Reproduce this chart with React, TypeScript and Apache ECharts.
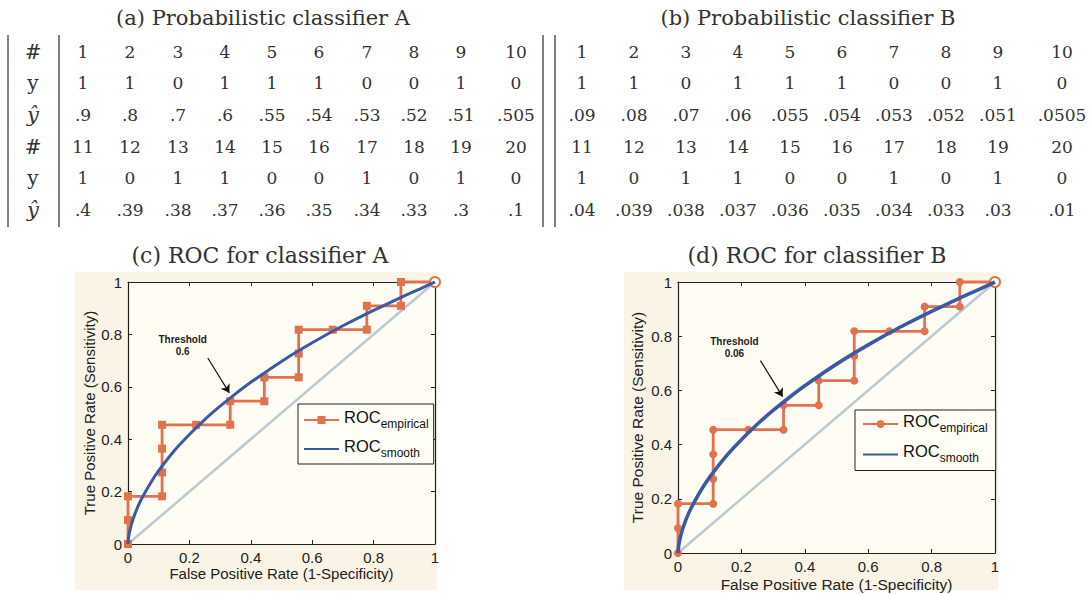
import React, { useEffect, useRef } from 'react';
import * as echarts from 'echarts';

// ---------- Table data ----------
const idsTop = ['1', '2', '3', '4', '5', '6', '7', '8', '9', '10'];
const idsBottom = ['11', '12', '13', '14', '15', '16', '17', '18', '19', '20'];
const yTop = ['1', '1', '0', '1', '1', '1', '0', '0', '1', '0'];
const yBottom = ['1', '0', '1', '1', '0', '0', '1', '0', '1', '0'];
const scoresATop = ['.9', '.8', '.7', '.6', '.55', '.54', '.53', '.52', '.51', '.505'];
const scoresABottom = ['.4', '.39', '.38', '.37', '.36', '.35', '.34', '.33', '.3', '.1'];
const scoresBTop = ['.09', '.08', '.07', '.06', '.055', '.054', '.053', '.052', '.051', '.0505'];
const scoresBBottom = ['.04', '.039', '.038', '.037', '.036', '.035', '.034', '.033', '.03', '.01'];
const rowLabels = ['#', 'y', 'ŷ', '#', 'y', 'ŷ'];

// ---------- ROC data ----------
const empiricalFpr = [0, 0, 0, 0.111, 0.111, 0.111, 0.111, 0.222, 0.333, 0.333, 0.444, 0.444, 0.556, 0.556, 0.556, 0.667, 0.778, 0.778, 0.889, 0.889, 1];
const empiricalTpr = [0, 0.091, 0.182, 0.182, 0.273, 0.364, 0.455, 0.455, 0.455, 0.545, 0.545, 0.636, 0.636, 0.727, 0.818, 0.818, 0.818, 0.909, 0.909, 1, 1];
const smoothFpr = [0, 0.002, 0.005, 0.01, 0.02, 0.035, 0.05, 0.075, 0.1, 0.15, 0.2, 0.25, 0.3, 0.35, 0.4, 0.5, 0.6, 0.7, 0.8, 0.9, 0.95, 1];
const smoothTpr = [0, 0.026, 0.045, 0.07, 0.107, 0.15, 0.185, 0.236, 0.28, 0.355, 0.418, 0.475, 0.526, 0.573, 0.617, 0.697, 0.768, 0.833, 0.892, 0.947, 0.973, 1];
const chanceFpr = [0, 1];
const chanceTpr = [0, 1];
const thresholdA = '0.6';
const thresholdB = '0.06';
const thresholdTextPos = [0.178, 0.757];
const arrowFrom = [0.26, 0.71];
const arrowTo = [0.33, 0.577];

// ---------- styling ----------
const SERIF = '"DejaVu Serif", serif';
const SANS = '"Liberation Sans", Arial, sans-serif';
const ORANGE = '#e2714e';
const BLUE = '#3b5aa6';
const GREY = '#b9cad2';
const INK = '#333333';

const colXA = [83, 130, 178, 225, 272, 319, 367, 414, 461, 516];
const colXB = [582, 634, 686, 738, 790, 842, 894, 946, 998, 1062];
const rowY = [52, 83, 115, 147, 178, 210];

function txt(text: string, x: number, y: number, size: number, extra: any = {}) {
  return {
    type: 'text',
    x,
    y,
    z: 10,
    silent: true,
    style: {
      text,
      fontSize: size,
      fontFamily: SERIF,
      fill: INK,
      align: 'center',
      verticalAlign: 'middle',
      ...extra,
    },
  };
}

function vline(x: number, y1: number, y2: number) {
  return {
    type: 'line',
    z: 10,
    silent: true,
    shape: { x1: x, y1, x2: x, y2 },
    style: { stroke: '#555', lineWidth: 1.5 },
  };
}

function tableElements() {
  const els: any[] = [];
  els.push(txt('(a) Probabilistic classifier A', 263, 18, 21));
  els.push(txt('(b) Probabilistic classifier B', 808, 18, 21));
  els.push(txt('(c) ROC for classifier A', 260, 255, 22));
  els.push(txt('(d) ROC for classifier B', 817, 255, 22));
  rowLabels.forEach((l, i) => {
    els.push(txt(l, 33, rowY[i], l === 'ŷ' ? 21 : 20, l === 'ŷ' ? { fontStyle: 'italic' } : {}));
  });
  const rowsA = [idsTop, yTop, scoresATop, idsBottom, yBottom, scoresABottom];
  const rowsB = [idsTop, yTop, scoresBTop, idsBottom, yBottom, scoresBBottom];
  rowsA.forEach((row, r) => row.forEach((v, c) => els.push(txt(v, colXA[c], rowY[r], 17))));
  rowsB.forEach((row, r) => row.forEach((v, c) => els.push(txt(v, colXB[c], rowY[r], 17))));
  els.push(vline(8, 35, 227));
  els.push(vline(59, 35, 227));
  els.push(vline(543, 35, 227));
  els.push(vline(555, 35, 227));
  // panel backgrounds
  els.push({ type: 'rect', z: -5, silent: true, shape: { x: 75, y: 272, width: 362, height: 318 }, style: { fill: '#f9f4e6' } });
  els.push({ type: 'rect', z: -5, silent: true, shape: { x: 624, y: 272, width: 374, height: 318 }, style: { fill: '#f9f4e6' } });
  return els;
}

function axesFor(gi: number, nameGapX: number, nameGapY: number, fontSize: number) {
  const common = {
    gridIndex: gi,
    type: 'value',
    min: 0,
    max: 1,
    interval: 0.2,
    splitLine: { show: false },
    axisLine: { show: true, onZero: false, lineStyle: { color: '#222', width: 1.2 } },
    axisTick: { show: true, inside: true, length: 4, lineStyle: { color: '#222' } },
  };
  const label = { show: true, fontSize: 15, fontFamily: SANS, color: '#222', margin: 6 };
  const xAxes = [
    {
      ...common,
      position: 'bottom',
      axisLabel: label,
      name: 'False Positive Rate (1-Specificity)',
      nameLocation: 'middle',
      nameGap: nameGapX,
      nameTextStyle: { fontSize, fontFamily: SANS, color: '#222' },
    },
    { ...common, position: 'top', axisLabel: { show: false } },
  ];
  const yAxes = [
    {
      ...common,
      position: 'left',
      axisLabel: label,
      name: 'True Positive Rate (Sensitivity)',
      nameLocation: 'middle',
      nameGap: nameGapY,
      nameTextStyle: { fontSize, fontFamily: SANS, color: '#222' },
    },
    { ...common, position: 'right', axisLabel: { show: false } },
  ];
  return { xAxes, yAxes };
}

function seriesFor(gi: number, suffix: string, marker: string, threshold: string, blueWidth: number) {
  const ax = { xAxisIndex: gi * 2, yAxisIndex: gi * 2 };
  const last = empiricalFpr.length - 1;
  return [
    {
      type: 'line',
      name: 'chance' + suffix,
      ...ax,
      data: chanceFpr.map((x, i) => [x, chanceTpr[i]]),
      symbol: 'none',
      lineStyle: { color: GREY, width: 2.5 },
      z: 1,
      silent: true,
      markPoint: {
        silent: true,
        symbol: 'circle',
        symbolSize: 0,
        data: [
          {
            coord: thresholdTextPos,
            label: {
              show: true,
              position: 'inside',
              formatter: 'Threshold\n' + threshold,
              fontSize: 10,
              fontWeight: 'bold',
              fontFamily: SANS,
              color: '#222',
              lineHeight: 12,
              align: 'center',
            },
          },
        ],
      },
      markLine: {
        silent: true,
        symbol: ['none', 'arrow'],
        symbolSize: 8,
        label: { show: false },
        lineStyle: { color: '#111', width: 1.2, type: 'solid' },
        data: [[{ coord: arrowFrom }, { coord: arrowTo }]],
      },
    },
    {
      type: 'line',
      name: 'emp' + suffix,
      ...ax,
      data: empiricalFpr.map((x, i) =>
        i === last
          ? { value: [x, empiricalTpr[i]], symbol: 'emptyCircle', symbolSize: 10 }
          : [x, empiricalTpr[i]]
      ),
      symbol: marker,
      symbolSize: 8,
      showAllSymbol: true,
      clip: false,
      lineStyle: { color: ORANGE, width: 2.8 },
      itemStyle: { color: ORANGE },
      z: 2,
    },
    {
      type: 'line',
      name: 'smooth' + suffix,
      ...ax,
      data: smoothFpr.map((x, i) => [x, smoothTpr[i]]),
      smooth: 0.2,
      symbol: 'none',
      lineStyle: { color: BLUE, width: blueWidth },
      itemStyle: { color: BLUE },
      z: 3,
    },
  ];
}

function legendFor(suffix: string, left: number, top: number, padding: number[], gap: number) {
  return {
    left,
    top,
    orient: 'vertical',
    data: [
      { name: 'emp' + suffix },
      { name: 'smooth' + suffix, itemStyle: { color: 'rgba(0,0,0,0)', borderColor: 'rgba(0,0,0,0)', borderWidth: 0 } },
    ],
    selectedMode: false,
    itemWidth: 35,
    itemHeight: 10,
    itemGap: gap,
    padding,
    backgroundColor: '#fefdf6',
    borderColor: '#222',
    borderWidth: 1,
    formatter: (n: string) => (n.startsWith('emp') ? '{r|ROC}{s|empirical}' : '{r|ROC}{s|smooth}'),
    textStyle: {
      rich: {
        r: { fontSize: 16.5, fontFamily: SANS, color: '#111', lineHeight: 16, padding: [0, 0, 7, 0] },
        s: { fontSize: 12, fontFamily: SANS, color: '#111', lineHeight: 12, padding: [7, 0, 0, 0] },
      },
    },
  };
}

export default function App() {
  const ref = useRef<HTMLDivElement>(null);
  useEffect(() => {
    if (!ref.current) return;
    const chart = echarts.init(ref.current, undefined, { renderer: 'svg' });
    const a = axesFor(0, 22, 31, 15);
    const b = axesFor(1, 23, 33, 15.5);
    chart.setOption({
      animation: false,
      backgroundColor: '#ffffff',
      grid: [
        { left: 128, top: 282, width: 307, height: 262, show: true, backgroundColor: '#fefcf3', borderWidth: 0 },
        { left: 678, top: 282, width: 317, height: 271, show: true, backgroundColor: '#fefcf3', borderWidth: 0 },
      ],
      xAxis: [...a.xAxes, ...b.xAxes],
      yAxis: [...a.yAxes, ...b.yAxes],
      legend: [legendFor('A', 298, 404, [4, 5, 3, 5], 5), legendFor('B', 855, 410, [2, 8, 4, 7], 6.5)],
      series: [...seriesFor(0, 'A', 'rect', thresholdA, 3), ...seriesFor(1, 'B', 'circle', thresholdB, 3.6)],
      graphic: { elements: tableElements() },
    });
    return () => chart.dispose();
  }, []);
  return (
    <div
      ref={ref}
      style={{ position: 'absolute', left: 0, top: 0, width: 1090, height: 594, background: '#fff' }}
    />
  );
}
